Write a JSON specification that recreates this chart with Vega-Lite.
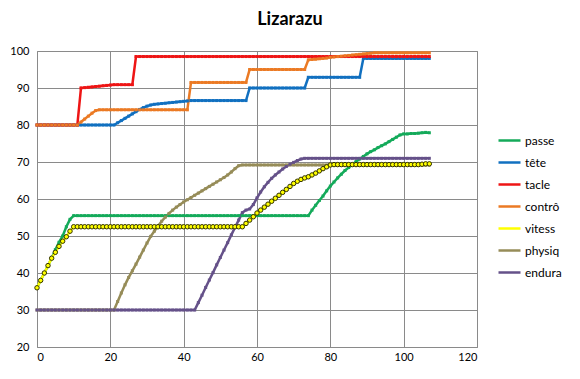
{
  "$schema": "https://vega.github.io/schema/vega-lite/v6.json",
  "width": 440,
  "height": 296,
  "autosize": {"type": "none"},
  "padding": {"left": 37, "top": 51, "right": 103, "bottom": 32},
  "background": "white",
  "title": {"text": "Lizarazu", "fontSize": 18, "fontWeight": "bold", "font": "Lato", "color": "#000000", "offset": 16, "dx": 33},
  "config": {
    "view": {"stroke": "#8a8a8a", "strokeWidth": 1},
    "axis": {"labelFont": "Lato", "labelFontSize": 11, "labelColor": "#000000", "gridColor": "#8a8a8a", "gridOpacity": 1, "gridWidth": 1, "domainColor": "#8a8a8a", "ticks": false, "title": null},
    "legend": {"labelFont": "Lato", "labelFontSize": 12, "labelColor": "#000000"}
  },
  "data": {"values": [
{"s":"passe","x":0,"y":36},{"s":"passe","x":1,"y":38},{"s":"passe","x":2,"y":40},{"s":"passe","x":3,"y":42},{"s":"passe","x":4,"y":44},{"s":"passe","x":5,"y":46.3},{"s":"passe","x":6,"y":48.3},{"s":"passe","x":7,"y":50},{"s":"passe","x":8,"y":52.5},{"s":"passe","x":9,"y":54.5},
{"s":"passe","x":10,"y":55.5},{"s":"passe","x":11,"y":55.5},{"s":"passe","x":12,"y":55.5},{"s":"passe","x":13,"y":55.5},{"s":"passe","x":14,"y":55.5},{"s":"passe","x":15,"y":55.5},{"s":"passe","x":16,"y":55.5},{"s":"passe","x":17,"y":55.5},{"s":"passe","x":18,"y":55.5},{"s":"passe","x":19,"y":55.5},
{"s":"passe","x":20,"y":55.5},{"s":"passe","x":21,"y":55.5},{"s":"passe","x":22,"y":55.5},{"s":"passe","x":23,"y":55.5},{"s":"passe","x":24,"y":55.5},{"s":"passe","x":25,"y":55.5},{"s":"passe","x":26,"y":55.5},{"s":"passe","x":27,"y":55.5},{"s":"passe","x":28,"y":55.5},{"s":"passe","x":29,"y":55.5},
{"s":"passe","x":30,"y":55.5},{"s":"passe","x":31,"y":55.5},{"s":"passe","x":32,"y":55.5},{"s":"passe","x":33,"y":55.5},{"s":"passe","x":34,"y":55.5},{"s":"passe","x":35,"y":55.5},{"s":"passe","x":36,"y":55.5},{"s":"passe","x":37,"y":55.5},{"s":"passe","x":38,"y":55.5},{"s":"passe","x":39,"y":55.5},
{"s":"passe","x":40,"y":55.5},{"s":"passe","x":41,"y":55.5},{"s":"passe","x":42,"y":55.5},{"s":"passe","x":43,"y":55.5},{"s":"passe","x":44,"y":55.5},{"s":"passe","x":45,"y":55.5},{"s":"passe","x":46,"y":55.5},{"s":"passe","x":47,"y":55.5},{"s":"passe","x":48,"y":55.5},{"s":"passe","x":49,"y":55.5},
{"s":"passe","x":50,"y":55.5},{"s":"passe","x":51,"y":55.5},{"s":"passe","x":52,"y":55.5},{"s":"passe","x":53,"y":55.5},{"s":"passe","x":54,"y":55.5},{"s":"passe","x":55,"y":55.5},{"s":"passe","x":56,"y":55.5},{"s":"passe","x":57,"y":55.5},{"s":"passe","x":58,"y":55.5},{"s":"passe","x":59,"y":55.5},
{"s":"passe","x":60,"y":55.5},{"s":"passe","x":61,"y":55.5},{"s":"passe","x":62,"y":55.5},{"s":"passe","x":63,"y":55.5},{"s":"passe","x":64,"y":55.5},{"s":"passe","x":65,"y":55.5},{"s":"passe","x":66,"y":55.5},{"s":"passe","x":67,"y":55.5},{"s":"passe","x":68,"y":55.5},{"s":"passe","x":69,"y":55.5},
{"s":"passe","x":70,"y":55.5},{"s":"passe","x":71,"y":55.5},{"s":"passe","x":72,"y":55.5},{"s":"passe","x":73,"y":55.5},{"s":"passe","x":74,"y":55.5},{"s":"passe","x":75,"y":57},{"s":"passe","x":76,"y":58.3},{"s":"passe","x":77,"y":59.6},{"s":"passe","x":78,"y":60.8},{"s":"passe","x":79,"y":62.2},
{"s":"passe","x":80,"y":63.5},{"s":"passe","x":81,"y":64.6},{"s":"passe","x":82,"y":65.7},{"s":"passe","x":83,"y":66.7},{"s":"passe","x":84,"y":67.7},{"s":"passe","x":85,"y":68.5},{"s":"passe","x":86,"y":69.3},{"s":"passe","x":87,"y":70.1},{"s":"passe","x":88,"y":70.8},{"s":"passe","x":89,"y":71.5},
{"s":"passe","x":90,"y":72.2},{"s":"passe","x":91,"y":72.8},{"s":"passe","x":92,"y":73.3},{"s":"passe","x":93,"y":73.9},{"s":"passe","x":94,"y":74.4},{"s":"passe","x":95,"y":74.9},{"s":"passe","x":96,"y":75.5},{"s":"passe","x":97,"y":76.1},{"s":"passe","x":98,"y":76.7},{"s":"passe","x":99,"y":77.3},
{"s":"passe","x":100,"y":77.6},{"s":"passe","x":101,"y":77.6},{"s":"passe","x":102,"y":77.7},{"s":"passe","x":103,"y":77.7},{"s":"passe","x":104,"y":77.8},{"s":"passe","x":105,"y":77.9},{"s":"passe","x":106,"y":78},{"s":"passe","x":107,"y":77.9},
{"s":"tête","x":0,"y":80},{"s":"tête","x":1,"y":80},{"s":"tête","x":2,"y":80},{"s":"tête","x":3,"y":80},{"s":"tête","x":4,"y":80},{"s":"tête","x":5,"y":80},{"s":"tête","x":6,"y":80},{"s":"tête","x":7,"y":80},{"s":"tête","x":8,"y":80},{"s":"tête","x":9,"y":80},
{"s":"tête","x":10,"y":80},{"s":"tête","x":11,"y":80},{"s":"tête","x":12,"y":80},{"s":"tête","x":13,"y":80},{"s":"tête","x":14,"y":80},{"s":"tête","x":15,"y":80},{"s":"tête","x":16,"y":80},{"s":"tête","x":17,"y":80},{"s":"tête","x":18,"y":80},{"s":"tête","x":19,"y":80},
{"s":"tête","x":20,"y":80},{"s":"tête","x":21,"y":80},{"s":"tête","x":22,"y":80.6},{"s":"tête","x":23,"y":81.2},{"s":"tête","x":24,"y":81.8},{"s":"tête","x":25,"y":82.4},{"s":"tête","x":26,"y":83},{"s":"tête","x":27,"y":83.6},{"s":"tête","x":28,"y":84.2},{"s":"tête","x":29,"y":84.7},
{"s":"tête","x":30,"y":85.1},{"s":"tête","x":31,"y":85.4},{"s":"tête","x":32,"y":85.6},{"s":"tête","x":33,"y":85.7},{"s":"tête","x":34,"y":85.8},{"s":"tête","x":35,"y":85.9},{"s":"tête","x":36,"y":86},{"s":"tête","x":37,"y":86.1},{"s":"tête","x":38,"y":86.2},{"s":"tête","x":39,"y":86.3},
{"s":"tête","x":40,"y":86.4},{"s":"tête","x":41,"y":86.5},{"s":"tête","x":42,"y":86.6},{"s":"tête","x":43,"y":86.6},{"s":"tête","x":44,"y":86.6},{"s":"tête","x":45,"y":86.6},{"s":"tête","x":46,"y":86.6},{"s":"tête","x":47,"y":86.6},{"s":"tête","x":48,"y":86.6},{"s":"tête","x":49,"y":86.6},
{"s":"tête","x":50,"y":86.6},{"s":"tête","x":51,"y":86.6},{"s":"tête","x":52,"y":86.6},{"s":"tête","x":53,"y":86.6},{"s":"tête","x":54,"y":86.6},{"s":"tête","x":55,"y":86.6},{"s":"tête","x":56,"y":86.6},{"s":"tête","x":57,"y":86.6},{"s":"tête","x":58,"y":90},{"s":"tête","x":59,"y":90},
{"s":"tête","x":60,"y":90},{"s":"tête","x":61,"y":90},{"s":"tête","x":62,"y":90},{"s":"tête","x":63,"y":90},{"s":"tête","x":64,"y":90},{"s":"tête","x":65,"y":90},{"s":"tête","x":66,"y":90},{"s":"tête","x":67,"y":90},{"s":"tête","x":68,"y":90},{"s":"tête","x":69,"y":90},
{"s":"tête","x":70,"y":90},{"s":"tête","x":71,"y":90},{"s":"tête","x":72,"y":90},{"s":"tête","x":73,"y":90},{"s":"tête","x":74,"y":92.9},{"s":"tête","x":75,"y":92.9},{"s":"tête","x":76,"y":92.9},{"s":"tête","x":77,"y":92.9},{"s":"tête","x":78,"y":92.9},{"s":"tête","x":79,"y":92.9},
{"s":"tête","x":80,"y":92.9},{"s":"tête","x":81,"y":92.9},{"s":"tête","x":82,"y":92.9},{"s":"tête","x":83,"y":92.9},{"s":"tête","x":84,"y":92.9},{"s":"tête","x":85,"y":92.9},{"s":"tête","x":86,"y":92.9},{"s":"tête","x":87,"y":92.9},{"s":"tête","x":88,"y":92.9},{"s":"tête","x":89,"y":98},
{"s":"tête","x":90,"y":98},{"s":"tête","x":91,"y":98},{"s":"tête","x":92,"y":98},{"s":"tête","x":93,"y":98},{"s":"tête","x":94,"y":98},{"s":"tête","x":95,"y":98},{"s":"tête","x":96,"y":98},{"s":"tête","x":97,"y":98},{"s":"tête","x":98,"y":98},{"s":"tête","x":99,"y":98},
{"s":"tête","x":100,"y":98},{"s":"tête","x":101,"y":98},{"s":"tête","x":102,"y":98},{"s":"tête","x":103,"y":98},{"s":"tête","x":104,"y":98},{"s":"tête","x":105,"y":98},{"s":"tête","x":106,"y":98},{"s":"tête","x":107,"y":98},
{"s":"tacle","x":0,"y":80},{"s":"tacle","x":1,"y":80},{"s":"tacle","x":2,"y":80},{"s":"tacle","x":3,"y":80},{"s":"tacle","x":4,"y":80},{"s":"tacle","x":5,"y":80},{"s":"tacle","x":6,"y":80},{"s":"tacle","x":7,"y":80},{"s":"tacle","x":8,"y":80},{"s":"tacle","x":9,"y":80},
{"s":"tacle","x":10,"y":80},{"s":"tacle","x":11,"y":80},{"s":"tacle","x":12,"y":90},{"s":"tacle","x":13,"y":90.1},{"s":"tacle","x":14,"y":90.2},{"s":"tacle","x":15,"y":90.3},{"s":"tacle","x":16,"y":90.4},{"s":"tacle","x":17,"y":90.5},{"s":"tacle","x":18,"y":90.6},{"s":"tacle","x":19,"y":90.7},
{"s":"tacle","x":20,"y":90.8},{"s":"tacle","x":21,"y":90.9},{"s":"tacle","x":22,"y":90.9},{"s":"tacle","x":23,"y":90.9},{"s":"tacle","x":24,"y":90.9},{"s":"tacle","x":25,"y":90.9},{"s":"tacle","x":26,"y":90.9},{"s":"tacle","x":27,"y":98.5},{"s":"tacle","x":28,"y":98.5},{"s":"tacle","x":29,"y":98.5},
{"s":"tacle","x":30,"y":98.5},{"s":"tacle","x":31,"y":98.5},{"s":"tacle","x":32,"y":98.5},{"s":"tacle","x":33,"y":98.5},{"s":"tacle","x":34,"y":98.5},{"s":"tacle","x":35,"y":98.5},{"s":"tacle","x":36,"y":98.5},{"s":"tacle","x":37,"y":98.5},{"s":"tacle","x":38,"y":98.5},{"s":"tacle","x":39,"y":98.5},
{"s":"tacle","x":40,"y":98.5},{"s":"tacle","x":41,"y":98.5},{"s":"tacle","x":42,"y":98.5},{"s":"tacle","x":43,"y":98.5},{"s":"tacle","x":44,"y":98.5},{"s":"tacle","x":45,"y":98.5},{"s":"tacle","x":46,"y":98.5},{"s":"tacle","x":47,"y":98.5},{"s":"tacle","x":48,"y":98.5},{"s":"tacle","x":49,"y":98.5},
{"s":"tacle","x":50,"y":98.5},{"s":"tacle","x":51,"y":98.5},{"s":"tacle","x":52,"y":98.5},{"s":"tacle","x":53,"y":98.5},{"s":"tacle","x":54,"y":98.5},{"s":"tacle","x":55,"y":98.5},{"s":"tacle","x":56,"y":98.5},{"s":"tacle","x":57,"y":98.5},{"s":"tacle","x":58,"y":98.5},{"s":"tacle","x":59,"y":98.5},
{"s":"tacle","x":60,"y":98.5},{"s":"tacle","x":61,"y":98.5},{"s":"tacle","x":62,"y":98.5},{"s":"tacle","x":63,"y":98.5},{"s":"tacle","x":64,"y":98.5},{"s":"tacle","x":65,"y":98.5},{"s":"tacle","x":66,"y":98.5},{"s":"tacle","x":67,"y":98.5},{"s":"tacle","x":68,"y":98.5},{"s":"tacle","x":69,"y":98.5},
{"s":"tacle","x":70,"y":98.5},{"s":"tacle","x":71,"y":98.5},{"s":"tacle","x":72,"y":98.5},{"s":"tacle","x":73,"y":98.5},{"s":"tacle","x":74,"y":98.5},{"s":"tacle","x":75,"y":98.5},{"s":"tacle","x":76,"y":98.5},{"s":"tacle","x":77,"y":98.5},{"s":"tacle","x":78,"y":98.5},{"s":"tacle","x":79,"y":98.5},
{"s":"tacle","x":80,"y":98.5},{"s":"tacle","x":81,"y":98.5},{"s":"tacle","x":82,"y":98.5},{"s":"tacle","x":83,"y":98.5},{"s":"tacle","x":84,"y":98.5},{"s":"tacle","x":85,"y":98.5},{"s":"tacle","x":86,"y":98.5},{"s":"tacle","x":87,"y":98.5},{"s":"tacle","x":88,"y":98.5},{"s":"tacle","x":89,"y":98.5},
{"s":"tacle","x":90,"y":98.5},{"s":"tacle","x":91,"y":98.5},{"s":"tacle","x":92,"y":98.5},{"s":"tacle","x":93,"y":98.5},{"s":"tacle","x":94,"y":98.5},{"s":"tacle","x":95,"y":98.5},{"s":"tacle","x":96,"y":98.5},{"s":"tacle","x":97,"y":98.5},{"s":"tacle","x":98,"y":98.5},{"s":"tacle","x":99,"y":98.5},
{"s":"tacle","x":100,"y":98.5},{"s":"tacle","x":101,"y":98.5},{"s":"tacle","x":102,"y":98.5},{"s":"tacle","x":103,"y":98.5},{"s":"tacle","x":104,"y":98.5},{"s":"tacle","x":105,"y":98.5},{"s":"tacle","x":106,"y":98.5},{"s":"tacle","x":107,"y":98.5},
{"s":"contrô","x":0,"y":80},{"s":"contrô","x":1,"y":80},{"s":"contrô","x":2,"y":80},{"s":"contrô","x":3,"y":80},{"s":"contrô","x":4,"y":80},{"s":"contrô","x":5,"y":80},{"s":"contrô","x":6,"y":80},{"s":"contrô","x":7,"y":80},{"s":"contrô","x":8,"y":80},{"s":"contrô","x":9,"y":80},
{"s":"contrô","x":10,"y":80},{"s":"contrô","x":11,"y":80},{"s":"contrô","x":12,"y":80.8},{"s":"contrô","x":13,"y":81.6},{"s":"contrô","x":14,"y":82.4},{"s":"contrô","x":15,"y":83.2},{"s":"contrô","x":16,"y":83.9},{"s":"contrô","x":17,"y":84.1},{"s":"contrô","x":18,"y":84.1},{"s":"contrô","x":19,"y":84.1},
{"s":"contrô","x":20,"y":84.1},{"s":"contrô","x":21,"y":84.1},{"s":"contrô","x":22,"y":84.1},{"s":"contrô","x":23,"y":84.1},{"s":"contrô","x":24,"y":84.1},{"s":"contrô","x":25,"y":84.1},{"s":"contrô","x":26,"y":84.1},{"s":"contrô","x":27,"y":84.1},{"s":"contrô","x":28,"y":84.1},{"s":"contrô","x":29,"y":84.1},
{"s":"contrô","x":30,"y":84.1},{"s":"contrô","x":31,"y":84.1},{"s":"contrô","x":32,"y":84.1},{"s":"contrô","x":33,"y":84.1},{"s":"contrô","x":34,"y":84.1},{"s":"contrô","x":35,"y":84.1},{"s":"contrô","x":36,"y":84.1},{"s":"contrô","x":37,"y":84.1},{"s":"contrô","x":38,"y":84.1},{"s":"contrô","x":39,"y":84.1},
{"s":"contrô","x":40,"y":84.1},{"s":"contrô","x":41,"y":84.1},{"s":"contrô","x":42,"y":91.5},{"s":"contrô","x":43,"y":91.5},{"s":"contrô","x":44,"y":91.5},{"s":"contrô","x":45,"y":91.5},{"s":"contrô","x":46,"y":91.5},{"s":"contrô","x":47,"y":91.5},{"s":"contrô","x":48,"y":91.5},{"s":"contrô","x":49,"y":91.5},
{"s":"contrô","x":50,"y":91.5},{"s":"contrô","x":51,"y":91.5},{"s":"contrô","x":52,"y":91.5},{"s":"contrô","x":53,"y":91.5},{"s":"contrô","x":54,"y":91.5},{"s":"contrô","x":55,"y":91.5},{"s":"contrô","x":56,"y":91.5},{"s":"contrô","x":57,"y":91.5},{"s":"contrô","x":58,"y":95},{"s":"contrô","x":59,"y":95},
{"s":"contrô","x":60,"y":95},{"s":"contrô","x":61,"y":95},{"s":"contrô","x":62,"y":95},{"s":"contrô","x":63,"y":95},{"s":"contrô","x":64,"y":95},{"s":"contrô","x":65,"y":95},{"s":"contrô","x":66,"y":95},{"s":"contrô","x":67,"y":95},{"s":"contrô","x":68,"y":95},{"s":"contrô","x":69,"y":95},
{"s":"contrô","x":70,"y":95},{"s":"contrô","x":71,"y":95},{"s":"contrô","x":72,"y":95},{"s":"contrô","x":73,"y":95},{"s":"contrô","x":74,"y":97.6},{"s":"contrô","x":75,"y":97.7},{"s":"contrô","x":76,"y":97.8},{"s":"contrô","x":77,"y":97.9},{"s":"contrô","x":78,"y":98},{"s":"contrô","x":79,"y":98.1},
{"s":"contrô","x":80,"y":98.3},{"s":"contrô","x":81,"y":98.4},{"s":"contrô","x":82,"y":98.5},{"s":"contrô","x":83,"y":98.6},{"s":"contrô","x":84,"y":98.7},{"s":"contrô","x":85,"y":98.8},{"s":"contrô","x":86,"y":98.9},{"s":"contrô","x":87,"y":99},{"s":"contrô","x":88,"y":99.1},{"s":"contrô","x":89,"y":99.2},
{"s":"contrô","x":90,"y":99.3},{"s":"contrô","x":91,"y":99.4},{"s":"contrô","x":92,"y":99.5},{"s":"contrô","x":93,"y":99.5},{"s":"contrô","x":94,"y":99.5},{"s":"contrô","x":95,"y":99.5},{"s":"contrô","x":96,"y":99.5},{"s":"contrô","x":97,"y":99.5},{"s":"contrô","x":98,"y":99.5},{"s":"contrô","x":99,"y":99.5},
{"s":"contrô","x":100,"y":99.5},{"s":"contrô","x":101,"y":99.5},{"s":"contrô","x":102,"y":99.5},{"s":"contrô","x":103,"y":99.5},{"s":"contrô","x":104,"y":99.5},{"s":"contrô","x":105,"y":99.5},{"s":"contrô","x":106,"y":99.5},{"s":"contrô","x":107,"y":99.5},
{"s":"vitess","x":0,"y":36},{"s":"vitess","x":1,"y":38},{"s":"vitess","x":2,"y":40},{"s":"vitess","x":3,"y":42},{"s":"vitess","x":4,"y":44},{"s":"vitess","x":5,"y":45.6},{"s":"vitess","x":6,"y":47.2},{"s":"vitess","x":7,"y":48.6},{"s":"vitess","x":8,"y":49.8},{"s":"vitess","x":9,"y":51.3},
{"s":"vitess","x":10,"y":52.5},{"s":"vitess","x":11,"y":52.5},{"s":"vitess","x":12,"y":52.5},{"s":"vitess","x":13,"y":52.5},{"s":"vitess","x":14,"y":52.5},{"s":"vitess","x":15,"y":52.5},{"s":"vitess","x":16,"y":52.5},{"s":"vitess","x":17,"y":52.5},{"s":"vitess","x":18,"y":52.5},{"s":"vitess","x":19,"y":52.5},
{"s":"vitess","x":20,"y":52.5},{"s":"vitess","x":21,"y":52.5},{"s":"vitess","x":22,"y":52.5},{"s":"vitess","x":23,"y":52.5},{"s":"vitess","x":24,"y":52.5},{"s":"vitess","x":25,"y":52.5},{"s":"vitess","x":26,"y":52.5},{"s":"vitess","x":27,"y":52.5},{"s":"vitess","x":28,"y":52.5},{"s":"vitess","x":29,"y":52.5},
{"s":"vitess","x":30,"y":52.5},{"s":"vitess","x":31,"y":52.5},{"s":"vitess","x":32,"y":52.5},{"s":"vitess","x":33,"y":52.5},{"s":"vitess","x":34,"y":52.5},{"s":"vitess","x":35,"y":52.5},{"s":"vitess","x":36,"y":52.5},{"s":"vitess","x":37,"y":52.5},{"s":"vitess","x":38,"y":52.5},{"s":"vitess","x":39,"y":52.5},
{"s":"vitess","x":40,"y":52.5},{"s":"vitess","x":41,"y":52.5},{"s":"vitess","x":42,"y":52.5},{"s":"vitess","x":43,"y":52.5},{"s":"vitess","x":44,"y":52.5},{"s":"vitess","x":45,"y":52.5},{"s":"vitess","x":46,"y":52.5},{"s":"vitess","x":47,"y":52.5},{"s":"vitess","x":48,"y":52.5},{"s":"vitess","x":49,"y":52.5},
{"s":"vitess","x":50,"y":52.5},{"s":"vitess","x":51,"y":52.5},{"s":"vitess","x":52,"y":52.5},{"s":"vitess","x":53,"y":52.5},{"s":"vitess","x":54,"y":52.5},{"s":"vitess","x":55,"y":52.5},{"s":"vitess","x":56,"y":52.5},{"s":"vitess","x":57,"y":53.4},{"s":"vitess","x":58,"y":54.3},{"s":"vitess","x":59,"y":55.2},
{"s":"vitess","x":60,"y":56.2},{"s":"vitess","x":61,"y":57},{"s":"vitess","x":62,"y":57.8},{"s":"vitess","x":63,"y":58.6},{"s":"vitess","x":64,"y":59.4},{"s":"vitess","x":65,"y":60.2},{"s":"vitess","x":66,"y":61},{"s":"vitess","x":67,"y":61.8},{"s":"vitess","x":68,"y":62.6},{"s":"vitess","x":69,"y":63.4},
{"s":"vitess","x":70,"y":64.2},{"s":"vitess","x":71,"y":64.8},{"s":"vitess","x":72,"y":65.3},{"s":"vitess","x":73,"y":65.7},{"s":"vitess","x":74,"y":66},{"s":"vitess","x":75,"y":66.5},{"s":"vitess","x":76,"y":67},{"s":"vitess","x":77,"y":67.6},{"s":"vitess","x":78,"y":68.2},{"s":"vitess","x":79,"y":68.7},
{"s":"vitess","x":80,"y":69.2},{"s":"vitess","x":81,"y":69.3},{"s":"vitess","x":82,"y":69.3},{"s":"vitess","x":83,"y":69.3},{"s":"vitess","x":84,"y":69.3},{"s":"vitess","x":85,"y":69.3},{"s":"vitess","x":86,"y":69.3},{"s":"vitess","x":87,"y":69.3},{"s":"vitess","x":88,"y":69.3},{"s":"vitess","x":89,"y":69.3},
{"s":"vitess","x":90,"y":69.3},{"s":"vitess","x":91,"y":69.3},{"s":"vitess","x":92,"y":69.3},{"s":"vitess","x":93,"y":69.3},{"s":"vitess","x":94,"y":69.3},{"s":"vitess","x":95,"y":69.3},{"s":"vitess","x":96,"y":69.3},{"s":"vitess","x":97,"y":69.3},{"s":"vitess","x":98,"y":69.3},{"s":"vitess","x":99,"y":69.3},
{"s":"vitess","x":100,"y":69.3},{"s":"vitess","x":101,"y":69.3},{"s":"vitess","x":102,"y":69.3},{"s":"vitess","x":103,"y":69.3},{"s":"vitess","x":104,"y":69.3},{"s":"vitess","x":105,"y":69.4},{"s":"vitess","x":106,"y":69.5},{"s":"vitess","x":107,"y":69.5},
{"s":"physiq","x":0,"y":30},{"s":"physiq","x":1,"y":30},{"s":"physiq","x":2,"y":30},{"s":"physiq","x":3,"y":30},{"s":"physiq","x":4,"y":30},{"s":"physiq","x":5,"y":30},{"s":"physiq","x":6,"y":30},{"s":"physiq","x":7,"y":30},{"s":"physiq","x":8,"y":30},{"s":"physiq","x":9,"y":30},
{"s":"physiq","x":10,"y":30},{"s":"physiq","x":11,"y":30},{"s":"physiq","x":12,"y":30},{"s":"physiq","x":13,"y":30},{"s":"physiq","x":14,"y":30},{"s":"physiq","x":15,"y":30},{"s":"physiq","x":16,"y":30},{"s":"physiq","x":17,"y":30},{"s":"physiq","x":18,"y":30},{"s":"physiq","x":19,"y":30},
{"s":"physiq","x":20,"y":30},{"s":"physiq","x":21,"y":30},{"s":"physiq","x":22,"y":32.3},{"s":"physiq","x":23,"y":34.6},{"s":"physiq","x":24,"y":36.8},{"s":"physiq","x":25,"y":38.8},{"s":"physiq","x":26,"y":40.6},{"s":"physiq","x":27,"y":42.4},{"s":"physiq","x":28,"y":44.3},{"s":"physiq","x":29,"y":46.2},
{"s":"physiq","x":30,"y":48.1},{"s":"physiq","x":31,"y":49.9},{"s":"physiq","x":32,"y":51.3},{"s":"physiq","x":33,"y":52.7},{"s":"physiq","x":34,"y":54},{"s":"physiq","x":35,"y":55.1},{"s":"physiq","x":36,"y":56.1},{"s":"physiq","x":37,"y":57},{"s":"physiq","x":38,"y":57.8},{"s":"physiq","x":39,"y":58.5},
{"s":"physiq","x":40,"y":59.2},{"s":"physiq","x":41,"y":59.8},{"s":"physiq","x":42,"y":60.4},{"s":"physiq","x":43,"y":61},{"s":"physiq","x":44,"y":61.6},{"s":"physiq","x":45,"y":62.2},{"s":"physiq","x":46,"y":62.8},{"s":"physiq","x":47,"y":63.4},{"s":"physiq","x":48,"y":64},{"s":"physiq","x":49,"y":64.6},
{"s":"physiq","x":50,"y":65.2},{"s":"physiq","x":51,"y":65.8},{"s":"physiq","x":52,"y":66.5},{"s":"physiq","x":53,"y":67.3},{"s":"physiq","x":54,"y":68.2},{"s":"physiq","x":55,"y":69},{"s":"physiq","x":56,"y":69.2},{"s":"physiq","x":57,"y":69.2},{"s":"physiq","x":58,"y":69.2},{"s":"physiq","x":59,"y":69.2},
{"s":"physiq","x":60,"y":69.2},{"s":"physiq","x":61,"y":69.2},{"s":"physiq","x":62,"y":69.2},{"s":"physiq","x":63,"y":69.2},{"s":"physiq","x":64,"y":69.2},{"s":"physiq","x":65,"y":69.2},{"s":"physiq","x":66,"y":69.2},{"s":"physiq","x":67,"y":69.2},{"s":"physiq","x":68,"y":69.2},{"s":"physiq","x":69,"y":69.2},
{"s":"physiq","x":70,"y":69.2},{"s":"physiq","x":71,"y":69.2},{"s":"physiq","x":72,"y":69.2},{"s":"physiq","x":73,"y":69.2},{"s":"physiq","x":74,"y":69.2},{"s":"physiq","x":75,"y":69.2},{"s":"physiq","x":76,"y":69.2},{"s":"physiq","x":77,"y":69.2},{"s":"physiq","x":78,"y":69.2},{"s":"physiq","x":79,"y":69.2},
{"s":"physiq","x":80,"y":69.2},{"s":"physiq","x":81,"y":69.2},{"s":"physiq","x":82,"y":69.2},{"s":"physiq","x":83,"y":69.2},{"s":"physiq","x":84,"y":69.2},{"s":"physiq","x":85,"y":69.2},{"s":"physiq","x":86,"y":69.2},{"s":"physiq","x":87,"y":69.2},{"s":"physiq","x":88,"y":69.2},{"s":"physiq","x":89,"y":69.2},
{"s":"physiq","x":90,"y":69.2},{"s":"physiq","x":91,"y":69.2},{"s":"physiq","x":92,"y":69.2},{"s":"physiq","x":93,"y":69.2},{"s":"physiq","x":94,"y":69.2},{"s":"physiq","x":95,"y":69.2},{"s":"physiq","x":96,"y":69.2},{"s":"physiq","x":97,"y":69.2},{"s":"physiq","x":98,"y":69.2},{"s":"physiq","x":99,"y":69.2},
{"s":"physiq","x":100,"y":69.2},{"s":"physiq","x":101,"y":69.2},{"s":"physiq","x":102,"y":69.2},{"s":"physiq","x":103,"y":69.2},{"s":"physiq","x":104,"y":69.2},{"s":"physiq","x":105,"y":69.2},{"s":"physiq","x":106,"y":69.2},{"s":"physiq","x":107,"y":69.2},
{"s":"endura","x":0,"y":30},{"s":"endura","x":1,"y":30},{"s":"endura","x":2,"y":30},{"s":"endura","x":3,"y":30},{"s":"endura","x":4,"y":30},{"s":"endura","x":5,"y":30},{"s":"endura","x":6,"y":30},{"s":"endura","x":7,"y":30},{"s":"endura","x":8,"y":30},{"s":"endura","x":9,"y":30},
{"s":"endura","x":10,"y":30},{"s":"endura","x":11,"y":30},{"s":"endura","x":12,"y":30},{"s":"endura","x":13,"y":30},{"s":"endura","x":14,"y":30},{"s":"endura","x":15,"y":30},{"s":"endura","x":16,"y":30},{"s":"endura","x":17,"y":30},{"s":"endura","x":18,"y":30},{"s":"endura","x":19,"y":30},
{"s":"endura","x":20,"y":30},{"s":"endura","x":21,"y":30},{"s":"endura","x":22,"y":30},{"s":"endura","x":23,"y":30},{"s":"endura","x":24,"y":30},{"s":"endura","x":25,"y":30},{"s":"endura","x":26,"y":30},{"s":"endura","x":27,"y":30},{"s":"endura","x":28,"y":30},{"s":"endura","x":29,"y":30},
{"s":"endura","x":30,"y":30},{"s":"endura","x":31,"y":30},{"s":"endura","x":32,"y":30},{"s":"endura","x":33,"y":30},{"s":"endura","x":34,"y":30},{"s":"endura","x":35,"y":30},{"s":"endura","x":36,"y":30},{"s":"endura","x":37,"y":30},{"s":"endura","x":38,"y":30},{"s":"endura","x":39,"y":30},
{"s":"endura","x":40,"y":30},{"s":"endura","x":41,"y":30},{"s":"endura","x":42,"y":30},{"s":"endura","x":43,"y":30},{"s":"endura","x":44,"y":32},{"s":"endura","x":45,"y":34},{"s":"endura","x":46,"y":36.1},{"s":"endura","x":47,"y":38.1},{"s":"endura","x":48,"y":40.1},{"s":"endura","x":49,"y":42.2},
{"s":"endura","x":50,"y":44.2},{"s":"endura","x":51,"y":46.2},{"s":"endura","x":52,"y":48.2},{"s":"endura","x":53,"y":50.3},{"s":"endura","x":54,"y":52.3},{"s":"endura","x":55,"y":54.3},{"s":"endura","x":56,"y":56.3},{"s":"endura","x":57,"y":57},{"s":"endura","x":58,"y":57.3},{"s":"endura","x":59,"y":58.5},
{"s":"endura","x":60,"y":60.3},{"s":"endura","x":61,"y":61.9},{"s":"endura","x":62,"y":63.3},{"s":"endura","x":63,"y":64.5},{"s":"endura","x":64,"y":65.6},{"s":"endura","x":65,"y":66.5},{"s":"endura","x":66,"y":67.3},{"s":"endura","x":67,"y":68.1},{"s":"endura","x":68,"y":68.8},{"s":"endura","x":69,"y":69.4},
{"s":"endura","x":70,"y":69.9},{"s":"endura","x":71,"y":70.4},{"s":"endura","x":72,"y":70.8},{"s":"endura","x":73,"y":71},{"s":"endura","x":74,"y":71},{"s":"endura","x":75,"y":71},{"s":"endura","x":76,"y":71},{"s":"endura","x":77,"y":71},{"s":"endura","x":78,"y":71},{"s":"endura","x":79,"y":71},
{"s":"endura","x":80,"y":71},{"s":"endura","x":81,"y":71},{"s":"endura","x":82,"y":71},{"s":"endura","x":83,"y":71},{"s":"endura","x":84,"y":71},{"s":"endura","x":85,"y":71},{"s":"endura","x":86,"y":71},{"s":"endura","x":87,"y":71},{"s":"endura","x":88,"y":71},{"s":"endura","x":89,"y":71},
{"s":"endura","x":90,"y":71},{"s":"endura","x":91,"y":71},{"s":"endura","x":92,"y":71},{"s":"endura","x":93,"y":71},{"s":"endura","x":94,"y":71},{"s":"endura","x":95,"y":71},{"s":"endura","x":96,"y":71},{"s":"endura","x":97,"y":71},{"s":"endura","x":98,"y":71},{"s":"endura","x":99,"y":71},
{"s":"endura","x":100,"y":71},{"s":"endura","x":101,"y":71},{"s":"endura","x":102,"y":71},{"s":"endura","x":103,"y":71},{"s":"endura","x":104,"y":71},{"s":"endura","x":105,"y":71},{"s":"endura","x":106,"y":71},{"s":"endura","x":107,"y":71}
  ]},
  "encoding": {
    "x": {"field": "x", "type": "quantitative", "scale": {"domain": [0, 120], "nice": false, "zero": false}, "axis": {"values": [0, 20, 40, 60, 80, 100, 120], "labelPadding": 4, "domain": false, "gridColor": "#8a8a8a"}},
    "y": {"field": "y", "type": "quantitative", "scale": {"domain": [20, 100], "nice": false, "zero": false}, "axis": {"values": [20, 30, 40, 50, 60, 70, 80, 90, 100], "labelPadding": 8, "domain": false}}
  },
  "layer": [
    {
      "mark": {"type": "line", "strokeWidth": 2.5, "interpolate": "linear"},
      "encoding": {
        "color": {"field": "s", "type": "nominal",
          "scale": {"domain": ["passe", "tête", "tacle", "contrô", "vitess", "physiq", "endura"],
                    "range": ["#14AA5A", "#1170C0", "#EE1515", "#EB7A24", "#FFFF00", "#968C58", "#655189"]},
          "legend": {"title": null, "orient": "none", "legendX": 460, "legendY": 77, "symbolType": "stroke", "symbolSize": 484, "symbolStrokeWidth": 2.5, "rowPadding": 3, "labelOffset": 3, "padding": 0}
        },
        "detail": {"field": "s"}
      }
    },
    {
      "transform": [{"filter": "datum.s !== 'vitess'"}],
      "mark": {"type": "point", "filled": true, "size": 9, "shape": "square", "opacity": 1},
      "encoding": {
        "fill": {"field": "s", "type": "nominal",
          "scale": {"domain": ["passe", "tête", "tacle", "contrô", "vitess", "physiq", "endura"],
                    "range": ["#14AA5A", "#1170C0", "#EE1515", "#EB7A24", "#FFFF00", "#968C58", "#655189"]},
          "legend": null}
      }
    },
    {
      "transform": [{"filter": "datum.s === 'vitess'"}],
      "mark": {"type": "point", "filled": true, "shape": "circle", "size": 20, "fill": "#FFFF00", "stroke": "#333300", "strokeWidth": 1, "opacity": 1},
      "encoding": {}
    }
  ]
}
